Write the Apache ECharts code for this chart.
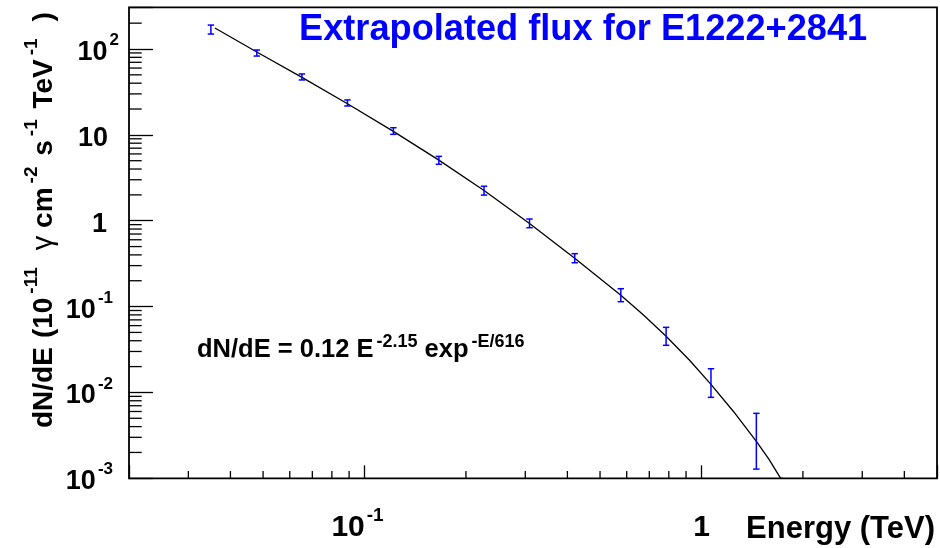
<!DOCTYPE html>
<html>
<head>
<meta charset="utf-8">
<script src="https://cdn.jsdelivr.net/npm/echarts@6/dist/echarts.min.js"></script>
<style>
html,body{margin:0;padding:0;background:#fff;}
#chart{width:940px;height:548px;}
</style>
</head>
<body>
<div id="chart"></div>
<script>
// ---- data ----
const energy   = [0.0350, 0.0479, 0.0652, 0.0890, 0.1218, 0.1662, 0.2263, 0.3088, 0.4205, 0.5763, 0.7853, 1.067, 1.455];
const flux     = [169.5, 91.5, 47.5, 23.7, 11.17, 5.19, 2.24, 0.933, 0.365, 0.1363, 0.0458, 0.01277, 0.00267];
const fluxHigh = [190, 97.3, 51.2, 25.5, 12.11, 5.62, 2.52, 1.047, 0.413, 0.1615, 0.0573, 0.01889, 0.00571];
const fluxLow  = [149.4, 82.8, 43.6, 21.7, 10.14, 4.54, 1.99, 0.829, 0.324, 0.114, 0.0354, 0.00877, 0.00128];

// fitted curve
const fitEnergy = [0.03597, 0.04789, 0.06522, 0.08901, 0.1218, 0.1662, 0.2263, 0.3088, 0.4205, 0.5763, 0.6728, 0.7853, 0.9203, 1.067, 1.246, 1.455, 1.585, 1.718, 1.75];
const fitFlux   = [175.5, 92.2, 46.67, 23.05, 10.99, 5.08, 2.247, 0.930, 0.3648, 0.1352, 0.0796, 0.04516, 0.02385, 0.01243, 0.005962, 0.002695, 0.001673, 0.001, 0.001];

const xMin = 0.02, xMax = 5;
const yMin = 0.001, yMax = 306;

const xMinorTicks = [0.03, 0.04, 0.05, 0.06, 0.07, 0.08, 0.09, 0.2, 0.3, 0.4, 0.5, 0.6, 0.7, 0.8, 0.9, 2, 3, 4];
const yMinorTicks = [0.002, 0.003, 0.004, 0.005, 0.006, 0.007, 0.008, 0.009,
                     0.02, 0.03, 0.04, 0.05, 0.06, 0.07, 0.08, 0.09,
                     0.2, 0.3, 0.4, 0.5, 0.6, 0.7, 0.8, 0.9,
                     2, 3, 4, 5, 6, 7, 8, 9,
                     20, 30, 40, 50, 60, 70, 80, 90, 200];

const titleText = 'Extrapolated flux for E1222+2841';
const xTitle = 'Energy (TeV)';

// ---- chart ----
const FONT = '"Liberation Sans", Arial, Helvetica, sans-serif';
const chart = echarts.init(document.getElementById('chart'), null, {renderer: 'canvas'});

function decade(v) {
  const l = Math.log10(v);
  const e = Math.round(l);
  return Math.abs(l - e) < 1e-6 ? e : null;
}

function yLabel(v) {
  const e = decade(v);
  if (e === null) return '';
  if (e === 0) return '{m|1}{g3|}';
  if (e === 1) return '{m|10}{g2|}';
  if (e > 0) return '{m|10}{s|' + e + '}';
  return '{m|10}{s|' + e + '}{g1|}';
}
function xLabel(v) {
  const e = decade(v);
  if (e === null) return '';
  if (e === 0) return '{m|1}';
  return '{m|10}{s|' + e + '}{g|}';
}

function tickSeries(vals, axis, len) {
  return {
    type: 'custom',
    silent: true,
    data: vals.map(v => axis === 'x' ? [v, yMin] : [xMin, v]),
    renderItem: function (params, api) {
      const p = api.coord([api.value(0), api.value(1)]);
      const shape = axis === 'x'
        ? {x1: p[0], y1: p[1], x2: p[0], y2: p[1] - len}
        : {x1: p[0], y1: p[1], x2: p[0] + len, y2: p[1]};
      return {type: 'line', shape: shape, style: {stroke: '#000', lineWidth: 1.3}};
    }
  };
}

const option = {
  animation: false,
  backgroundColor: '#fff',
  grid: {left: 129, top: 7.3, right: 1.5, bottom: 69.7, show: true, borderColor: '#000', borderWidth: 1.8, backgroundColor: 'transparent'},
  xAxis: {
    type: 'log', logBase: 10, min: xMin, max: xMax,
    axisLine: {show: false},
    splitLine: {show: false},
    axisTick: {show: true, inside: true, length: 13, lineStyle: {color: '#000', width: 1.3}},
    axisLabel: {
      margin: 28, formatter: xLabel, color: '#000',
      rich: {
        m: {fontFamily: FONT, fontWeight: 'bold', fontSize: 30, lineHeight: 36, color: '#000', verticalAlign: 'bottom'},
        s: {fontFamily: FONT, fontWeight: 'bold', fontSize: 19, lineHeight: 19, color: '#000', verticalAlign: 'top', padding: [0, 0, 0, 2]},
        g: {width: 14}
      }
    }
  },
  yAxis: {
    type: 'log', logBase: 10, min: yMin, max: yMax,
    axisLine: {show: false},
    splitLine: {show: false},
    axisTick: {show: true, inside: true, length: 24, lineStyle: {color: '#000', width: 1.3}},
    axisLabel: {
      margin: 10, formatter: yLabel, color: '#000',
      rich: {
        m: {fontFamily: FONT, fontWeight: 'bold', fontSize: 27, lineHeight: 34, color: '#000', verticalAlign: 'bottom'},
        s: {fontFamily: FONT, fontWeight: 'bold', fontSize: 17, lineHeight: 17, color: '#000', verticalAlign: 'top', padding: [0, 0, 0, 2]},
        g1: {width: 6},
        g2: {width: 11},
        g3: {width: 12}
      }
    }
  },
  series: [
    tickSeries(xMinorTicks, 'x', 7.3),
    tickSeries(yMinorTicks, 'y', 12.7),
    {
      type: 'line',
      data: fitEnergy.map((x, i) => [x, fitFlux[i]]),
      showSymbol: false,
      symbol: 'none',
      smooth: false,
      clip: true,
      lineStyle: {color: '#000', width: 1.3},
      z: 3
    },
    {
      type: 'custom',
      data: energy.map((x, i) => [x, flux[i], fluxLow[i], fluxHigh[i]]),
      encode: {x: 0, y: 1},
      renderItem: function (params, api) {
        const x = api.value(0);
        const lo = api.coord([x, api.value(2)]);
        const hi = api.coord([x, api.value(3)]);
        const c = 3.2;
        const st = {stroke: '#0000ff', lineWidth: 1.5};
        return {
          type: 'group',
          children: [
            {type: 'line', shape: {x1: lo[0], y1: lo[1], x2: hi[0], y2: hi[1]}, style: st},
            {type: 'line', shape: {x1: lo[0] - c, y1: lo[1], x2: lo[0] + c, y2: lo[1]}, style: st},
            {type: 'line', shape: {x1: hi[0] - c, y1: hi[1], x2: hi[0] + c, y2: hi[1]}, style: st}
          ]
        };
      },
      z: 4
    }
  ],
  graphic: [
    {
      type: 'text', x: 299, y: 30, z: 10,
      style: {text: titleText, fill: '#0000ff', font: 'bold 36.2px ' + FONT, align: 'left', verticalAlign: 'middle'}
    },
    {
      type: 'text', x: 935, y: 529, z: 10,
      style: {text: xTitle, fill: '#000', font: 'bold 31px ' + FONT, align: 'right', verticalAlign: 'middle'}
    },
    {
      type: 'text', x: 197, y: 348, z: 10,
      style: {
        text: '{m|dN/dE = 0.12 E}{s|-2.15}{m| exp}{s|-E/616}',
        align: 'left', verticalAlign: 'middle',
        rich: {
          m: {fontFamily: FONT, fontWeight: 'bold', fontSize: 25.5, lineHeight: 30, fill: '#000', verticalAlign: 'bottom'},
          s: {fontFamily: FONT, fontWeight: 'bold', fontSize: 18, lineHeight: 18, fill: '#000', verticalAlign: 'top', padding: [0, 0, 0, 3]}
        }
      }
    },
    {
      type: 'text', x: 40, y: 428, rotation: Math.PI / 2, z: 10,
      style: {
        text: '{m|dN/dE}{w5| }{m|(10}{s|-11}{w8| }{g| γ}{m| cm}{s|-2}{w2| }{m| s}{s|-1}{w2| }{m| TeV}{s|-1}{w8| }{m| )}',
        align: 'left', verticalAlign: 'middle',
        rich: {
          m: {fontFamily: FONT, fontWeight: 'bold', fontSize: 28, lineHeight: 36, fill: '#000', verticalAlign: 'bottom'},
          s: {fontFamily: FONT, fontWeight: 'bold', fontSize: 19, lineHeight: 19, fill: '#000', verticalAlign: 'top', padding: [0, 0, 0, 4]},
          g: {fontFamily: FONT, fontWeight: 'normal', fontSize: 29, lineHeight: 36, fill: '#000', verticalAlign: 'bottom'},
          w2: {width: 3, fontSize: 10},
          w5: {width: 9, fontSize: 10},
          w8: {width: 9, fontSize: 10}
        }
      }
    }
  ]
};
chart.setOption(option);
</script>
</body>
</html>
